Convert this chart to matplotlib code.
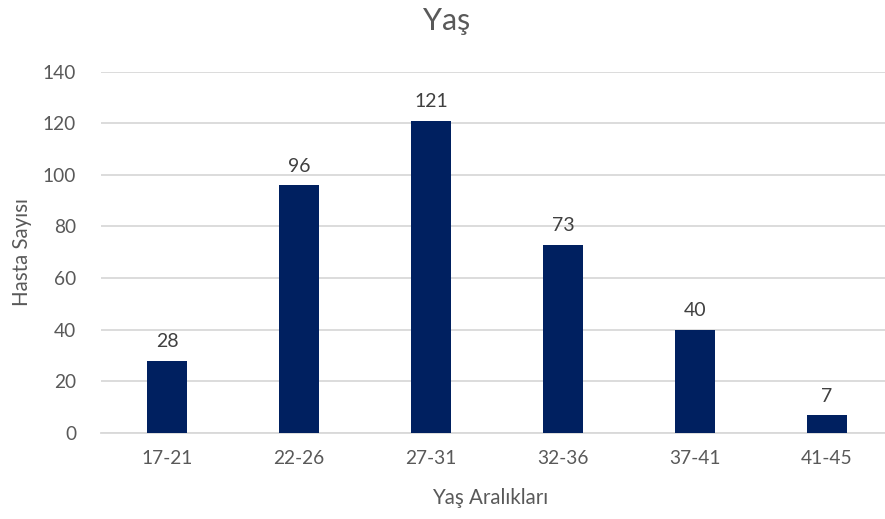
import matplotlib

matplotlib.use("Agg")
import matplotlib.pyplot as plt

categories = ["17-21", "22-26", "27-31", "32-36", "37-41", "41-45"]
counts = [28, 96, 121, 73, 40, 7]
yticks = [0, 20, 40, 60, 80, 100, 120, 140]

plt.rcParams["font.family"] = ["Lato", "DejaVu Sans"]

fig = plt.figure(figsize=(8.85, 5.19), dpi=100)
ax = fig.add_axes([101 / 885, 86 / 519, 792 / 885, 361.5 / 519])

x = range(len(categories))
ax.bar(x, counts, width=0.31, color="#002060", zorder=3)
for xi, v in zip(x, counts):
    ax.text(xi, v + 4, str(v), ha="center", va="bottom", fontsize=14, color="#404040")

ax.set_xlim(-0.5, len(categories) - 0.5)
ax.set_ylim(0, 140)
ax.set_yticks(yticks)
ax.set_xticks(list(x))
ax.set_xticklabels(categories)
ax.tick_params(axis="both", length=0, labelsize=13.8, colors="#595959")
ax.tick_params(axis="x", pad=12)
ax.tick_params(axis="y", pad=18)
ax.grid(axis="y", color="#d9d9d9", linewidth=1.3, zorder=0)
for s in ["top", "right", "left"]:
    ax.spines[s].set_visible(False)
ax.spines["bottom"].set_color("#d9d9d9")
ax.spines["bottom"].set_linewidth(1.3)

ax.set_xlabel("Yaş Aralıkları", fontsize=14.8, color="#595959")
ax.xaxis.set_label_coords((490 - 101) / 792, -(498 - 433) / 361.5)
ax.xaxis.label.set_va("center")
ax.set_ylabel("Hasta Sayısı", fontsize=14.8, color="#595959")
ax.yaxis.set_label_coords(-(101 - 22) / 792, (433 - 252) / 361.5)
ax.yaxis.label.set_va("center")
fig.text(447 / 885, 1 - 21 / 519, "Yaş", ha="center", va="center", fontsize=22, color="#595959")

fig.savefig("out.png", dpi=100)
